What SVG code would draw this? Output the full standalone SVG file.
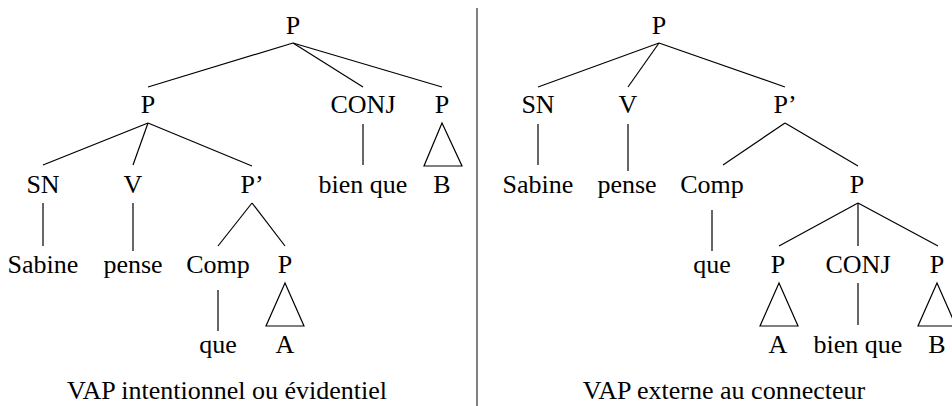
<svg xmlns="http://www.w3.org/2000/svg" width="952" height="406" viewBox="0 0 952 406">
<style>
text{font-family:"Times New Roman",Times,"Liberation Serif",serif;font-size:26px;fill:#000;text-anchor:middle}
.e line,.e polygon{stroke:#000;stroke-width:1.2;fill:none}
.div{stroke:#808080;stroke-width:2}
</style>
<rect width="952" height="406" fill="#fff"/>
<line class="div" x1="477" y1="8" x2="477" y2="406"/>
<g class="e" id="connectors">
<line x1="293" y1="43" x2="148" y2="87"/>
<line x1="293" y1="43" x2="363" y2="87"/>
<line x1="293" y1="43" x2="442" y2="87"/>
<line x1="148" y1="123" x2="43" y2="165"/>
<line x1="148" y1="123" x2="133" y2="165"/>
<line x1="148" y1="123" x2="252" y2="166"/>
<line x1="363" y1="124" x2="363" y2="165"/>
<polygon points="442,123 424,166 462,166"/>
<line x1="43" y1="203" x2="43" y2="246"/>
<line x1="133" y1="203" x2="133" y2="251"/>
<line x1="252" y1="203" x2="218" y2="246"/>
<line x1="252" y1="203" x2="285" y2="246"/>
<line x1="218" y1="290" x2="218" y2="331"/>
<polygon points="285,283 266,326 304,326"/>
<line x1="659" y1="43" x2="538" y2="87"/>
<line x1="659" y1="43" x2="628" y2="87"/>
<line x1="659" y1="43" x2="785" y2="87"/>
<line x1="538" y1="124" x2="538" y2="165"/>
<line x1="628" y1="124" x2="628" y2="171"/>
<line x1="785" y1="123" x2="723" y2="165"/>
<line x1="785" y1="123" x2="858" y2="166"/>
<line x1="712" y1="210" x2="712" y2="251"/>
<line x1="858" y1="203" x2="779" y2="246"/>
<line x1="858" y1="203" x2="858" y2="246"/>
<line x1="858" y1="203" x2="938" y2="246"/>
<polygon points="779,283 760,326 798,326"/>
<line x1="858" y1="283" x2="858" y2="325"/>
<polygon points="937,283 918,326 956,326"/>
</g>
<g id="left-tree">
<g id="l-root"><text x="293" y="33.5">P</text></g>
<g id="l-p1"><text x="148" y="113">P</text></g>
<g id="l-conj"><text x="363" y="113">CONJ</text></g>
<g id="l-p2"><text x="442" y="113">P</text></g>
<g id="l-sn"><text x="43" y="193">SN</text></g>
<g id="l-v"><text x="133" y="193">V</text></g>
<g id="l-pprime"><text x="252" y="193">P’</text></g>
<g id="l-bienque"><text x="363" y="193">bien que</text></g>
<g id="l-b"><text x="442" y="193">B</text></g>
<g id="l-sabine"><text x="43" y="273">Sabine</text></g>
<g id="l-pense"><text x="133" y="273">pense</text></g>
<g id="l-comp"><text x="218" y="273">Comp</text></g>
<g id="l-p3"><text x="285" y="273">P</text></g>
<g id="l-que"><text x="218" y="353">que</text></g>
<g id="l-a"><text x="285" y="353">A</text></g>
<g id="l-caption"><text x="227" y="399">VAP intentionnel ou évidentiel</text></g>
</g>
<g id="right-tree">
<g id="r-root"><text x="659" y="33.5">P</text></g>
<g id="r-sn"><text x="538" y="113">SN</text></g>
<g id="r-v"><text x="628" y="113">V</text></g>
<g id="r-pprime"><text x="785" y="113">P’</text></g>
<g id="r-sabine"><text x="538" y="193">Sabine</text></g>
<g id="r-pense"><text x="627" y="193">pense</text></g>
<g id="r-comp"><text x="712" y="193">Comp</text></g>
<g id="r-p1"><text x="857" y="193">P</text></g>
<g id="r-que"><text x="712" y="273">que</text></g>
<g id="r-p2"><text x="778" y="273">P</text></g>
<g id="r-conj"><text x="858" y="273">CONJ</text></g>
<g id="r-p3"><text x="937" y="273">P</text></g>
<g id="r-a"><text x="778" y="353">A</text></g>
<g id="r-bienque"><text x="858" y="353">bien que</text></g>
<g id="r-b"><text x="937" y="353">B</text></g>
<g id="r-caption"><text x="724" y="399">VAP externe au connecteur</text></g>
</g>
</svg>
